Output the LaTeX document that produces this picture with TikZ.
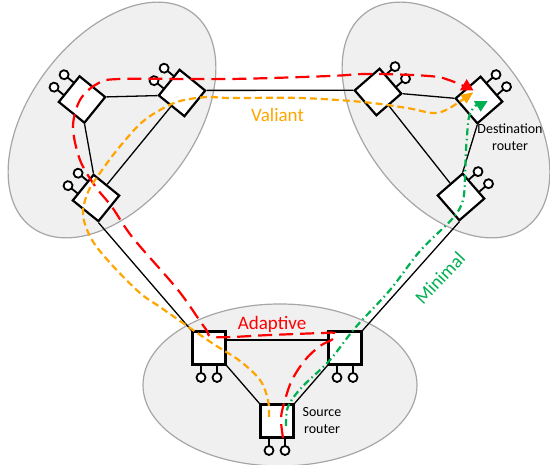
\documentclass[tikz,border=0pt]{standalone}
\usepackage{fontspec}
\setmainfont{Carlito}
\usetikzlibrary{arrows.meta}
\definecolor{adapred}{RGB}{255,0,0}
\definecolor{valorange}{RGB}{255,165,0}
\definecolor{mingreen}{RGB}{0,176,80}
\definecolor{groupfill}{RGB}{240,240,240}
\definecolor{groupline}{RGB}{166,166,166}

\begin{document}
\begin{tikzpicture}[x=1pt, y=1pt,
  group/.style={fill=groupfill, draw=groupline, line width=1.2pt},
  router/.style={draw, fill=white, line width=2.2pt, minimum size=33pt, inner sep=0pt},
  host/.style={draw, fill=white, line width=1.8pt},
  link/.style={line width=1.3pt},
  route/.style={line width=2.2pt},
  lbl/.style={font=\fontsize{19}{22}\selectfont, inner sep=0pt},
  tag/.style={font=\fontsize{14}{16.5}\selectfont, align=center, inner sep=0pt}]

\useasboundingbox (0,0) rectangle (550,-465);

% groups of routers
\draw[group, rotate around={53:(112,-120)}] (112,-120) ellipse (134 and 82);
\draw[group, rotate around={-53:(446,-120)}] (446,-120) ellipse (134 and 82);
\draw[group] (280,-385) ellipse (137 and 81);

% routers
\foreach \n/\x/\y/\r in {L1/82/-99.5/51, L2/182/-93/51, L3/96/-198/51,
                         R1/378/-92/-49, R2/479/-100/-49, R3/461/-197/-49}
  \node[router, rotate=\r] (\n) at (\x,\y) {};
\foreach \n/\x/\y in {B1/209/-348, B2/345/-348, B3/277/-421}
  \node[router] (\n) at (\x,\y) {};

% hosts
\foreach \n/\r in {L1/51, L2/51, L3/51, R1/-49, R2/-49, R3/-49, B1/180, B2/180, B3/180}
  \draw[host, shift={(\n.center)}, rotate=\r]
    (-8,17) -- (-8,25) (8,17) -- (8,25)
    (-8,29.5) circle (4.5) (8,29.5) circle (4.5);

% links
\begin{scope}[link]
\draw (L1.south east) -- (L2.north west);
\draw (L1.south west) -- (L3.north east);
\draw (L2) -- (L3);
\draw (L2.south east) -- (R1.south west);
\draw (R1.north east) -- (R2.south west);
\draw (R1) -- (R3);
\draw (R2.south east) -- (R3.north west);
\draw (L3.south west) -- (B1.north west);
\draw (R3.south east) -- (B2.north east);
\draw ([yshift=8pt]B1.east) -- ([yshift=8pt]B2.west);
\draw (B1.south east) -- (B3.north west);
\draw (B2.south west) -- (B3.north east);
\end{scope}

% labels
\node[lbl, text=valorange] (valiant) at (277.5,-115) {Valiant};
\node[lbl, text=adapred] (adaptive) at (272,-324) {Adaptive};
\node[lbl, text=mingreen, rotate=47] (minimal) at (440,-278) {Minimal};
\node[tag] (dest) at (510,-137) {Destination\\router};
\node[tag] (src) at (322,-420.5) {Source\\router};

% routes
\draw[route, adapred, dash pattern=on 14pt off 7pt, -{Triangle[length=11.5pt, width=13pt]}]
  plot[smooth, tension=0.55] coordinates {(283,-438) (281,-418) (285,-400) (292,-380)
    (305,-360) (320,-346) (333,-339) (335,-333) (322,-333) (270,-335) (215,-337)
    (205,-328) (178,-290) (133,-238) (112,-207) (95,-186) (80,-160) (73,-127)
    (80,-100) (97,-84) (120,-79) (230,-79) (330,-76) (365,-74) (413,-75) (440,-77)}
  .. controls (455,-82) and (466.7,-86) .. (466.7,-79);

\draw[route, valorange, dash pattern=on 7pt off 4pt, -{Triangle[length=12pt, width=10pt]}]
  plot[smooth, tension=0.55] coordinates {(269,-417) (268,-400) (260,-380) (240,-361)
    (215,-345) (193,-330) (160,-307) (140,-293) (112,-265) (92,-240) (83,-215)
    (88,-192) (100,-173) (117,-150) (140,-124) (160,-110) (180,-101) (207,-97)
    (230,-98) (300,-98) (363,-102) (407,-108) (433,-113) (448,-109) (473.3,-92.3)};

\draw[route, mingreen, dash pattern=on 7pt off 3.5pt on 1.5pt off 3.5pt, -{Triangle[length=10.5pt, width=13pt]}]
  plot[smooth, tension=0.55] coordinates {(286,-426) (287,-410) (293,-398) (305,-384)
    (330,-360) (355,-328) (390,-290) (420,-251) (453,-218) (463,-200) (465,-177)
    (466,-150) (468,-123)}
  .. controls (470,-104) and (480.7,-104) .. (480.7,-111.7);
\end{tikzpicture}
\end{document}
